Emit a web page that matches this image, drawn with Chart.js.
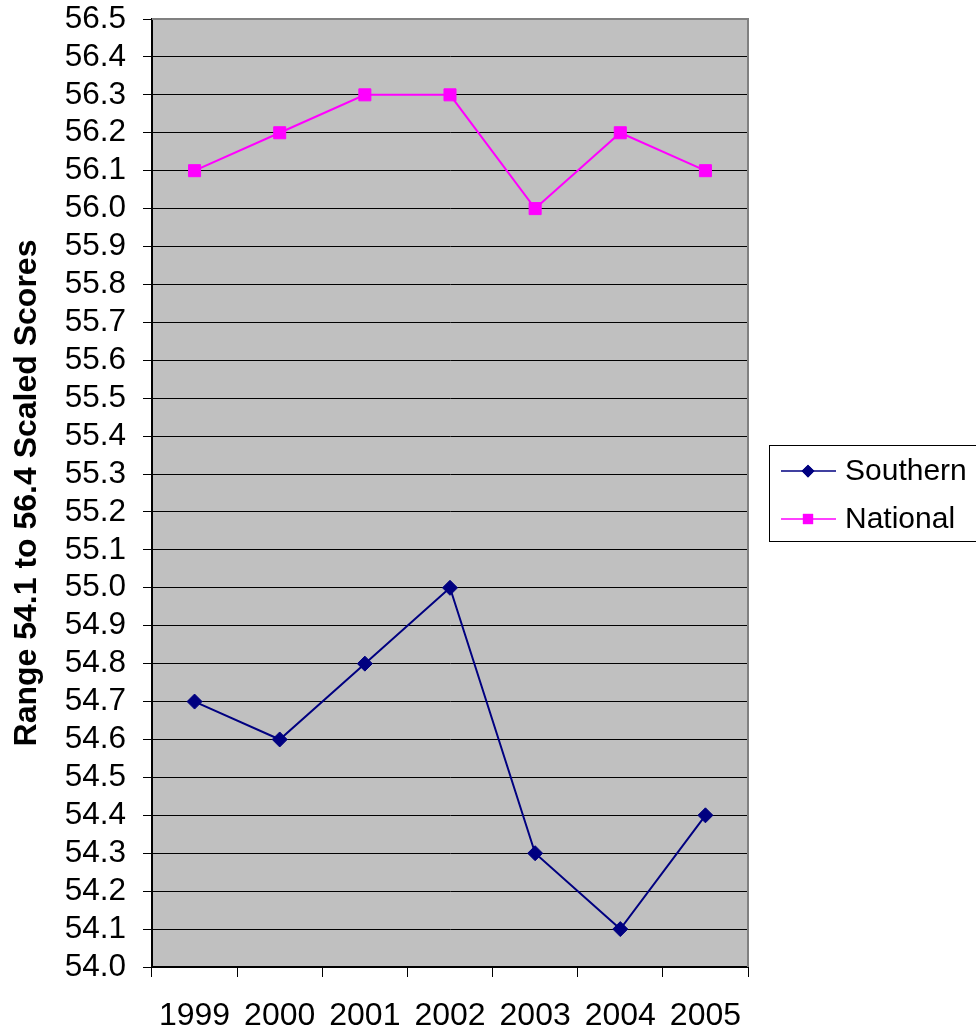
<!DOCTYPE html>
<html>
<head>
<meta charset="utf-8">
<script src="https://cdn.jsdelivr.net/npm/chart.js@4/dist/chart.umd.min.js"></script>
<style>
  html, body { margin: 0; padding: 0; background: #ffffff; }
  #wrap { width: 976px; height: 1031px; }
</style>
</head>
<body>
<div id="wrap"><canvas id="chart" width="976" height="1031"></canvas></div>
<script>
// Scaled score trends, 1999-2005
const years = ['1999', '2000', '2001', '2002', '2003', '2004', '2005'];
const southern = [54.7, 54.6, 54.8, 55.0, 54.3, 54.1, 54.4];
const national = [56.1, 56.2, 56.3, 56.3, 56.0, 56.2, 56.1];
const seriesNames = ['Southern', 'National'];
const yMin = 54.0;
const yMax = 56.5;
const yStep = 0.1;
const yTitle = 'Range 54.1 to 56.4 Scaled Scores';

const FONT = 'Arial, "Liberation Sans", Helvetica, sans-serif';

// Gray plot background plus the gray frame on the top and right edges
const plotFrame = {
  id: 'plotFrame',
  beforeDraw(chart) {
    const { ctx, chartArea: a } = chart;
    ctx.save();
    ctx.fillStyle = '#c0c0c0';
    ctx.fillRect(a.left, a.top, a.right - a.left, a.bottom - a.top);
    ctx.restore();
  },
  beforeDatasetsDraw(chart) {
    const { ctx, chartArea: a } = chart;
    ctx.save();
    ctx.strokeStyle = '#808080';
    ctx.lineWidth = 2;
    ctx.beginPath();
    ctx.moveTo(a.left, a.top);
    ctx.lineTo(a.right, a.top);
    ctx.lineTo(a.right, a.bottom);
    ctx.stroke();
    ctx.restore();
  }
};

// Boxed legend to the right of the plot
const boxLegend = {
  id: 'boxLegend',
  afterDraw(chart) {
    const { ctx } = chart;
    const box = { x: 769.5, y: 445.5, w: 240, h: 96 };
    ctx.save();
    ctx.fillStyle = '#ffffff';
    ctx.fillRect(box.x, box.y, box.w, box.h);
    ctx.strokeStyle = '#000000';
    ctx.lineWidth = 1;
    ctx.strokeRect(box.x, box.y, box.w, box.h);
    chart.data.datasets.forEach((ds, i) => {
      const cy = 471 + i * 48;
      ctx.strokeStyle = ds.borderColor;
      ctx.lineWidth = 1.5;
      ctx.beginPath();
      ctx.moveTo(781, cy);
      ctx.lineTo(836, cy);
      ctx.stroke();
      ctx.fillStyle = ds.pointBackgroundColor;
      Chart.helpers.drawPoint(ctx, {
        pointStyle: ds.pointStyle,
        radius: ds.pointRadius * 0.85,
        rotation: 0,
        borderWidth: 0
      }, 808, cy);
      ctx.fill();
      ctx.fillStyle = '#000000';
      ctx.font = '30px ' + FONT;
      ctx.textAlign = 'left';
      ctx.textBaseline = 'middle';
      ctx.fillText(ds.label, 845, cy + 1);
    });
    ctx.restore();
  }
};

new Chart(document.getElementById('chart'), {
  type: 'line',
  data: {
    labels: years,
    datasets: [
      {
        label: seriesNames[0],
        data: southern,
        borderColor: '#000080',
        backgroundColor: '#000080',
        pointBackgroundColor: '#000080',
        pointBorderColor: '#000080',
        pointStyle: 'rectRot',
        pointRadius: 7.5,
        pointBorderWidth: 1,
        borderWidth: 2,
        tension: 0,
        fill: false
      },
      {
        label: seriesNames[1],
        data: national,
        borderColor: '#ff00ff',
        backgroundColor: '#ff00ff',
        pointBackgroundColor: '#ff00ff',
        pointBorderColor: '#ff00ff',
        pointStyle: 'rect',
        pointRadius: 8.5,
        pointBorderWidth: 1,
        borderWidth: 2,
        tension: 0,
        fill: false
      }
    ]
  },
  options: {
    responsive: false,
    animation: false,
    devicePixelRatio: 1,
    layout: { padding: { top: 19, right: 228, bottom: 0, left: 0 } },
    plugins: {
      legend: { display: false },
      tooltip: { enabled: false }
    },
    scales: {
      x: {
        offset: true,
        grid: {
          offset: true,
          drawOnChartArea: false,
          color: '#000000',
          lineWidth: 1,
          tickLength: 10
        },
        border: { display: true, color: '#000000', width: 2 },
        ticks: {
          color: '#000000',
          font: { family: FONT, size: 32 },
          padding: 20,
          maxRotation: 0,
          autoSkip: false
        },
        afterFit(scale) {
          scale.height = 64;
          scale.paddingLeft = 0;
          scale.paddingRight = 0;
        }
      },
      y: {
        min: yMin,
        max: yMax,
        grid: {
          color: '#000000',
          lineWidth: 1,
          tickLength: 9
        },
        border: { display: true, color: '#000000', width: 2 },
        ticks: {
          stepSize: yStep,
          color: '#000000',
          font: { family: FONT, size: 31.5 },
          padding: 17,
          autoSkip: false,
          callback: (v) => Number(v).toFixed(1)
        },
        title: {
          display: true,
          text: yTitle,
          color: '#000000',
          font: { family: FONT, size: 32, weight: 'bold' },
          padding: { top: 8, bottom: 0 }
        },
        afterFit(scale) {
          scale.width = 152;
          scale.paddingTop = 0;
          scale.paddingBottom = 0;
        }
      }
    }
  },
  plugins: [plotFrame, boxLegend]
});
</script>
</body>
</html>
